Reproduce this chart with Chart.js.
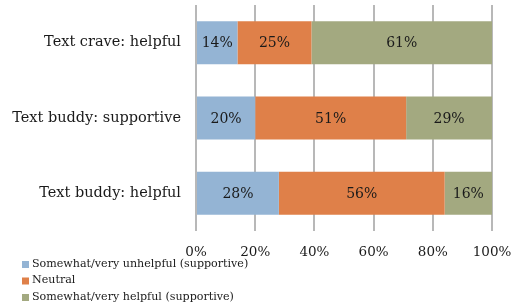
<!DOCTYPE html>
<html>
<head>
<meta charset="utf-8">
<script src="https://cdn.jsdelivr.net/npm/chart.js@4.4.0/dist/chart.umd.min.js"></script>
<style>
  html, body { margin: 0; padding: 0; background: #fff; }
  #wrap { width: 518px; height: 308px; position: relative; }
</style>
</head>
<body>
<div id="wrap"><canvas id="myChart" width="518" height="308"></canvas></div>
<script>
// values (percent)
var categories = ["Text crave: helpful", "Text buddy: supportive", "Text buddy: helpful"];
var unhelpful = [14, 20, 28];
var neutral = [25, 51, 56];
var helpful = [61, 29, 16];
var seriesNames = [
  "Somewhat/very unhelpful (supportive)",
  "Neutral",
  "Somewhat/very helpful (supportive)"
];
var tickLabels = ["0%", "20%", "40%", "60%", "80%", "100%"];

var serif = "'DejaVu Serif', serif";

// writes the percent in the middle of each segment
var segmentLabels = {
  id: "segmentLabels",
  afterDatasetsDraw: function (chart) {
    var ctx = chart.ctx;
    ctx.save();
    ctx.font = "14px " + serif;
    ctx.fillStyle = "#1a1a1a";
    ctx.textAlign = "center";
    ctx.textBaseline = "middle";
    chart.data.datasets.forEach(function (ds, i) {
      var meta = chart.getDatasetMeta(i);
      meta.data.forEach(function (bar, j) {
        var mid = (bar.x + bar.base) / 2;
        ctx.fillText(ds.data[j] + "%", mid, bar.y + 1);
      });
    });
    ctx.restore();
  }
};

// stacked legend under the axis, like the original
var listLegend = {
  id: "listLegend",
  afterDraw: function (chart) {
    var ctx = chart.ctx;
    ctx.save();
    ctx.font = "11.1px " + serif;
    ctx.textBaseline = "middle";
    chart.data.datasets.forEach(function (ds, i) {
      var y = 264 + i * 16.5;
      ctx.fillStyle = ds.backgroundColor;
      ctx.fillRect(22, y - 3, 7, 7);
      ctx.fillStyle = "#1a1a1a";
      ctx.fillText(ds.label, 32, y);
    });
    ctx.restore();
  }
};

var ctx = document.getElementById("myChart").getContext("2d");
var myChart = new Chart(ctx, {
  type: "bar",
  data: {
    labels: categories,
    datasets: [
      { label: seriesNames[0], data: unhelpful, backgroundColor: "#94b4d4" },
      { label: seriesNames[1], data: neutral, backgroundColor: "#df8049" },
      { label: seriesNames[2], data: helpful, backgroundColor: "#a3a980" }
    ]
  },
  options: {
    indexAxis: "y",
    responsive: false,
    animation: false,
    devicePixelRatio: 1,
    layout: { padding: { left: 0, right: 26, top: 5, bottom: 47 } },
    datasets: {
      bar: { barPercentage: 0.57, categoryPercentage: 1, borderWidth: 0 }
    },
    plugins: {
      legend: { display: false },
      tooltip: { enabled: false }
    },
    scales: {
      x: {
        stacked: true,
        min: 0,
        max: 100,
        afterFit: function (scale) {
          scale.height = 30;
          scale.paddingLeft = 0;
          scale.paddingRight = 0;
        },
        afterBuildTicks: function (scale) {
          scale.ticks = tickLabels.map(function (t, i) { return { value: i * 20 }; });
        },
        ticks: {
          font: { family: serif, size: 13.5 },
          color: "#1a1a1a",
          padding: 13,
          maxRotation: 0,
          callback: function (v, i) { return tickLabels[i]; }
        },
        grid: { color: "#b8b8b8", lineWidth: 2, drawTicks: false },
        border: { display: false }
      },
      y: {
        stacked: true,
        afterFit: function (scale) {
          scale.width = 196;
          scale.paddingTop = 0;
          scale.paddingBottom = 0;
        },
        ticks: {
          font: { family: serif, size: 14.5 },
          color: "#1a1a1a",
          padding: 15
        },
        grid: { display: false, drawTicks: false },
        border: { display: false }
      }
    }
  },
  plugins: [segmentLabels, listLegend]
});
</script>
</body>
</html>
